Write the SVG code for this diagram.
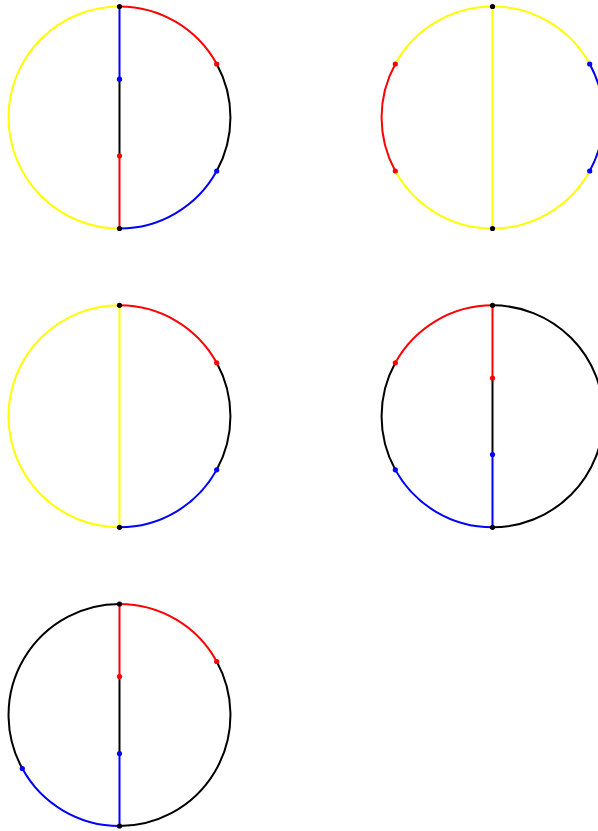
<svg xmlns="http://www.w3.org/2000/svg" width="598" height="831" viewBox="0 0 598 831">
<style>
path,line{fill:none;stroke-width:2;stroke-linecap:butt}
.y{stroke:#ffff00}.r{stroke:#ff0000}.b{stroke:#0000ff}.k{stroke:#000000}
.dk{fill:#000000}.dr{fill:#ff0000}.db{fill:#0000ff}
</style>
<defs>
<circle id="d" r="2.6"/>
</defs>
<rect width="598" height="831" fill="#ffffff"/>

<g id="fig1" transform="translate(119.5,117.5)">
<g id="fig1-edges">
<path class="y" d="M0,-111 A111,111 0 0 0 0,111"/>
<path class="r" d="M0,-111 A111,111 0 0 1 97.2,-53.5"/>
<path class="k" d="M97.2,-53.5 A111,111 0 0 1 97.2,53.5"/>
<path class="b" d="M97.2,53.5 A111,111 0 0 1 0,111"/>
<line class="b" x1="0" y1="-111" x2="0" y2="-38.3"/>
<line class="k" x1="0" y1="-38.3" x2="0" y2="38.3"/>
<line class="r" x1="0" y1="38.3" x2="0" y2="111"/>
</g>
<g id="fig1-nodes">
<use href="#d" class="dk" x="0" y="-111"/>
<use href="#d" class="dk" x="0" y="111"/>
<use href="#d" class="dr" x="97.2" y="-53.5"/>
<use href="#d" class="db" x="97.2" y="53.5"/>
<use href="#d" class="db" x="0" y="-38.3"/>
<use href="#d" class="dr" x="0" y="38.3"/>
</g>
</g>

<g id="fig2" transform="translate(492.5,117.5)">
<g id="fig2-edges">
<path class="y" d="M0,-111 A111,111 0 0 0 -97.2,-53.5"/>
<path class="r" d="M-97.2,-53.5 A111,111 0 0 0 -97.2,53.5"/>
<path class="y" d="M-97.2,53.5 A111,111 0 0 0 0,111"/>
<path class="y" d="M0,111 A111,111 0 0 0 97.2,53.5"/>
<path class="b" d="M97.2,53.5 A111,111 0 0 0 97.2,-53.5"/>
<path class="y" d="M97.2,-53.5 A111,111 0 0 0 0,-111"/>
<line class="y" x1="0" y1="-111" x2="0" y2="111"/>
</g>
<g id="fig2-nodes">
<use href="#d" class="dk" x="0" y="-111"/>
<use href="#d" class="dk" x="0" y="111"/>
<use href="#d" class="dr" x="-97.2" y="-53.5"/>
<use href="#d" class="dr" x="-97.2" y="53.5"/>
<use href="#d" class="db" x="97.2" y="-53.5"/>
<use href="#d" class="db" x="97.2" y="53.5"/>
</g>
</g>

<g id="fig3" transform="translate(119.5,416.3)">
<g id="fig3-edges">
<path class="y" d="M0,-111 A111,111 0 0 0 0,111"/>
<path class="r" d="M0,-111 A111,111 0 0 1 97.2,-53.5"/>
<path class="k" d="M97.2,-53.5 A111,111 0 0 1 97.2,53.5"/>
<path class="b" d="M97.2,53.5 A111,111 0 0 1 0,111"/>
<line class="y" x1="0" y1="-111" x2="0" y2="111"/>
</g>
<g id="fig3-nodes">
<use href="#d" class="dk" x="0" y="-111"/>
<use href="#d" class="dk" x="0" y="111"/>
<use href="#d" class="dr" x="97.2" y="-53.5"/>
<use href="#d" class="db" x="97.2" y="53.5"/>
</g>
</g>

<g id="fig4" transform="translate(492.5,416.3)">
<g id="fig4-edges">
<path class="r" d="M0,-111 A111,111 0 0 0 -97.2,-53.5"/>
<path class="k" d="M-97.2,-53.5 A111,111 0 0 0 -97.2,53.5"/>
<path class="b" d="M-97.2,53.5 A111,111 0 0 0 0,111"/>
<path class="k" d="M0,111 A111,111 0 0 0 0,-111"/>
<line class="r" x1="0" y1="-111" x2="0" y2="-38.3"/>
<line class="k" x1="0" y1="-38.3" x2="0" y2="38.3"/>
<line class="b" x1="0" y1="38.3" x2="0" y2="111"/>
</g>
<g id="fig4-nodes">
<use href="#d" class="dk" x="0" y="-111"/>
<use href="#d" class="dk" x="0" y="111"/>
<use href="#d" class="dr" x="-97.2" y="-53.5"/>
<use href="#d" class="db" x="-97.2" y="53.5"/>
<use href="#d" class="dr" x="0" y="-38.3"/>
<use href="#d" class="db" x="0" y="38.3"/>
</g>
</g>

<g id="fig5" transform="translate(119.5,715)">
<g id="fig5-edges">
<path class="r" d="M0,-111 A111,111 0 0 1 97.2,-53.5"/>
<path class="k" d="M97.2,-53.5 A111,111 0 0 1 0,111"/>
<path class="b" d="M0,111 A111,111 0 0 1 -97.2,53.5"/>
<path class="k" d="M-97.2,53.5 A111,111 0 0 1 0,-111"/>
<line class="r" x1="0" y1="-111" x2="0" y2="-38.5"/>
<line class="k" x1="0" y1="-38.5" x2="0" y2="38.5"/>
<line class="b" x1="0" y1="38.5" x2="0" y2="111"/>
</g>
<g id="fig5-nodes">
<use href="#d" class="dk" x="0" y="-111"/>
<use href="#d" class="dk" x="0" y="111"/>
<use href="#d" class="dr" x="97.2" y="-53.5"/>
<use href="#d" class="db" x="-97.2" y="53.5"/>
<use href="#d" class="dr" x="0" y="-38.5"/>
<use href="#d" class="db" x="0" y="38.5"/>
</g>
</g>
</svg>
